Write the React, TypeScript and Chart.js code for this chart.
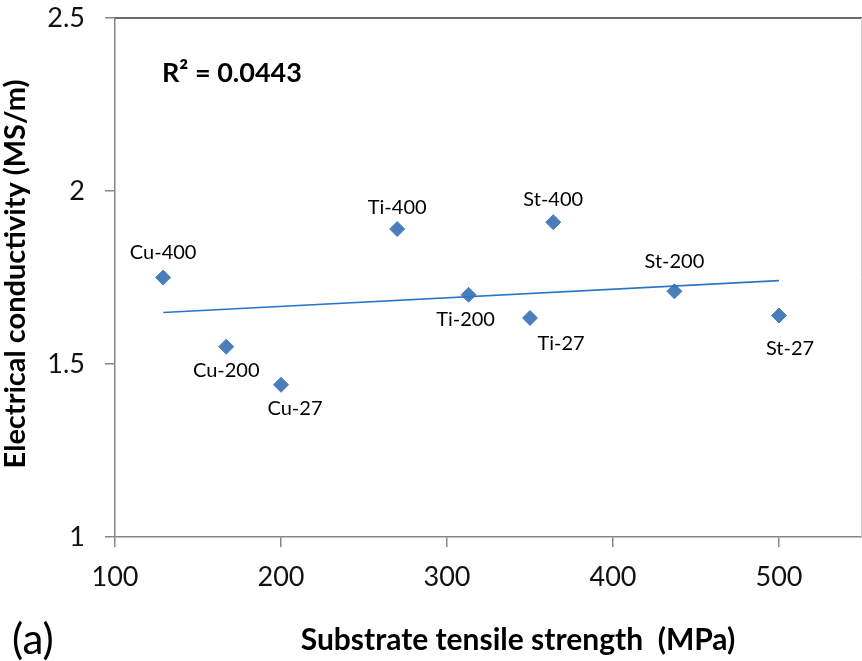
import React, { useEffect, useRef } from "react";
import { Chart, registerables } from "chart.js";

Chart.register(...registerables);

// ---- data ----
const sampleNames = ["Cu-400", "Cu-200", "Cu-27", "Ti-400", "Ti-200", "Ti-27", "St-400", "St-200", "St-27"];
const tensileStrength = [129, 167, 200, 270, 313, 350, 364, 437, 500];
const conductivity = [1.75, 1.55, 1.44, 1.89, 1.7, 1.633, 1.91, 1.71, 1.64];
const trendX = [129, 500];
const trendY = [1.649, 1.741];
const xTicks = [100, 200, 300, 400, 500];
const yTicks = [1, 1.5, 2, 2.5];
const rSquaredText = "R\u00b2 = 0.0443";
const panelLabel = "(a)";
const xTitle = "Substrate tensile strength  (MPa)";
const yTitle = "Electrical conductivity (MS/m)";

// label offsets (pixels) relative to each marker
const labelDx = [0, 0, 14, 0, -3, 31, 0, 0, 11];
const labelDy = [-25, 24, 24, -22, 25, 26, -23, -30, 33];

const FONT = "Lato, 'Open Sans', sans-serif";
const AXIS = "#868686";

const textPlugin = {
  id: "textPlugin",
  afterDraw(chart: any) {
    const ctx = chart.ctx;
    const a = chart.chartArea;
    ctx.save();
    // top and right border
    ctx.strokeStyle = "#3a3a3a";
    ctx.lineWidth = 1.5;
    ctx.beginPath();
    ctx.moveTo(a.left, a.top);
    ctx.lineTo(a.right, a.top);
    ctx.stroke();
    ctx.strokeStyle = "#d0d0d0";
    ctx.lineWidth = 1;
    ctx.beginPath();
    ctx.moveTo(a.right - 0.5, a.top);
    ctx.lineTo(a.right - 0.5, a.bottom);
    ctx.stroke();

    const xs = chart.scales.x;
    const ys = chart.scales.y;
    ctx.fillStyle = "#000";
    ctx.textAlign = "center";
    ctx.textBaseline = "middle";
    ctx.font = `20px ${FONT}`;
    sampleNames.forEach((name, i) => {
      const px = xs.getPixelForValue(tensileStrength[i]) + labelDx[i];
      const py = ys.getPixelForValue(conductivity[i]) + labelDy[i];
      ctx.fillText(name, px, py);
    });

    ctx.font = `bold 27px ${FONT}`;
    ctx.textAlign = "left";
    ctx.fillText(rSquaredText, a.left + 47, a.top + 55);

    ctx.font = `42px ${FONT}`;
    ctx.fillText(panelLabel, 12, 640);

    ctx.font = `bold 30px ${FONT}`;
    ctx.textAlign = "center";
    ctx.fillText(xTitle, 518, 640);

    ctx.font = `bold 29px ${FONT}`;
    ctx.translate(16, 274);
    ctx.rotate(-Math.PI / 2);
    ctx.fillText(yTitle, 0, 0);
    ctx.restore();
  },
};

export default function App() {
  const ref = useRef<HTMLCanvasElement | null>(null);
  useEffect(() => {
    document.body.style.margin = "0";
    const canvas = ref.current;
    if (!canvas) return;
    const chart = new Chart(canvas, {
      type: "scatter",
      data: {
        datasets: [
          {
            label: "trend",
            data: trendX.map((x, i) => ({ x, y: trendY[i] })),
            showLine: true,
            borderColor: "#2A76C6",
            borderWidth: 1.6,
            pointRadius: 0,
            fill: false,
          },
          {
            label: "samples",
            data: tensileStrength.map((x, i) => ({ x, y: conductivity[i] })),
            pointStyle: "rectRot",
            pointRadius: 7.5,
            pointHoverRadius: 7.5,
            backgroundColor: "#4A7EBB",
            borderColor: "#4A7EBB",
            borderWidth: 1,
          },
        ],
      },
      options: {
        responsive: false,
        animation: false,
        events: [],
        layout: { autoPadding: false, padding: { top: 18, right: 0, left: 0, bottom: 0 } },
        plugins: { legend: { display: false }, tooltip: { enabled: false } },
        scales: {
          x: {
            type: "linear",
            min: 100,
            max: 550,
            afterBuildTicks: (s: any) => {
              s.ticks = xTicks.map((v) => ({ value: v }));
            },
            afterFit: (s: any) => {
              s.height = 124;
              s.paddingLeft = 0;
              s.paddingRight = 0;
              s.paddingTop = 0;
              s.paddingBottom = 0;
            },
            grid: { drawOnChartArea: false, drawTicks: true, tickLength: 10, color: AXIS, lineWidth: 1.5 },
            border: { color: AXIS, width: 1.5 },
            ticks: { color: "#111", font: { family: FONT, size: 27 }, padding: 14, maxRotation: 0 },
          },
          y: {
            type: "linear",
            min: 1,
            max: 2.5,
            afterBuildTicks: (s: any) => {
              s.ticks = yTicks.map((v) => ({ value: v }));
            },
            afterFit: (s: any) => {
              s.width = 115;
              s.paddingLeft = 0;
              s.paddingRight = 0;
              s.paddingTop = 0;
              s.paddingBottom = 0;
            },
            grid: { drawOnChartArea: false, drawTicks: true, tickLength: 10, color: AXIS, lineWidth: 1.5 },
            border: { color: AXIS, width: 1.5 },
            ticks: {
              color: "#111",
              font: { family: FONT, size: 27 },
              padding: 20,
              callback: (v: any) => String(v),
            },
          },
        },
      },
      plugins: [textPlugin],
    });
    return () => chart.destroy();
  }, []);
  return (
    <div style={{ width: 862, height: 661, background: "#fff" }}>
      <canvas ref={ref} width={862} height={661} />
    </div>
  );
}
